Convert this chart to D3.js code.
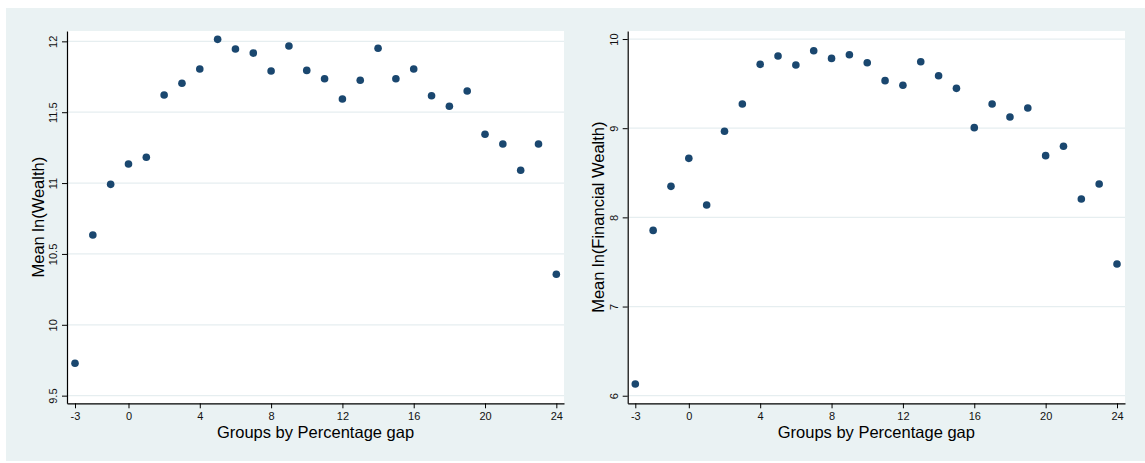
<!DOCTYPE html>
<html>
<head>
<meta charset="utf-8">
<script src="https://cdn.jsdelivr.net/npm/d3@7"></script>
<style>
  html, body { margin: 0; padding: 0; background: #ffffff; }
  svg { display: block; font-family: "Liberation Sans", Arial, sans-serif; }
</style>
</head>
<body>
<svg id="chart" width="1145" height="463"></svg>
<script>
// ---- Data ----
const groups = [-3,-2,-1,0,1,2,3,4,5,6,7,8,9,10,11,12,13,14,15,16,17,18,19,20,21,22,23,24];
const meanLnWealth = [9.729,10.634,10.991,11.135,11.182,11.621,11.704,11.805,12.014,11.946,11.917,11.791,11.967,
  11.795,11.736,11.593,11.725,11.951,11.736,11.805,11.616,11.542,11.650,11.344,11.276,11.090,11.276,10.357];
const meanLnFinWealth = [6.131,7.854,8.348,8.662,8.138,8.965,9.271,9.716,9.809,9.708,9.869,9.783,9.824,
  9.734,9.533,9.481,9.746,9.588,9.447,9.006,9.271,9.125,9.226,8.692,8.797,8.206,8.374,7.477];
const xTicks = [-3,0,4,8,12,16,20,24];
const yTicksWealth = [9.5,10,10.5,11,11.5,12];
const yTicksFin = [6,7,8,9,10];
const xTitle = "Groups by Percentage gap";
const yTitleWealth = "Mean ln(Wealth)";
const yTitleFin = "Mean ln(Financial Wealth)";

// ---- Styles ----
const BG = "#eaf2f3";
const GRID = "#e6eef0";
const MARK = "#1a476f";

const svg = d3.select("#chart");
svg.append("rect").attr("x", 6).attr("y", 8).attr("width", 1139).attr("height", 453).attr("fill", BG);

function panel(cfg) {
  const {left, right, top, bottom, xDom, yDom, yTicks, yFmt, values, yTitle} = cfg;
  const x = d3.scaleLinear().domain(xDom).range([left, right]);
  const y = d3.scaleLinear().domain(yDom).range([bottom, top]);
  const g = svg.append("g");
  g.append("rect").attr("x", left).attr("y", top).attr("width", right - left).attr("height", bottom - top).attr("fill", "#ffffff");
  // gridlines
  g.selectAll("line.grid").data(yTicks).join("line")
    .attr("class", "grid")
    .attr("x1", left).attr("x2", right)
    .attr("y1", d => y(d)).attr("y2", d => y(d))
    .attr("stroke", GRID).attr("stroke-width", 1.3);
  // points
  g.selectAll("circle").data(groups.map((gv, i) => [gv, values[i]])).join("circle")
    .attr("cx", d => x(d[0])).attr("cy", d => y(d[1])).attr("r", 3.8).attr("fill", MARK);
  // x axis
  const xa = g.append("g").attr("transform", `translate(0,${bottom})`)
    .call(d3.axisBottom(x).tickValues(xTicks).tickSize(5).tickSizeOuter(0).tickFormat(d3.format("d")));
  xa.select(".domain").attr("stroke", "#000").attr("stroke-width", 1.2);
  xa.selectAll(".tick line").attr("stroke", "#000").attr("stroke-width", 1);
  xa.selectAll(".tick text").attr("y", 0).attr("dy", null)
    .attr("transform", "translate(0,16.8)")
    .attr("font-size", 11).attr("fill", "#111").attr("font-family", "Liberation Sans, Arial, sans-serif")
    .text(d => d < 0 ? "-" + Math.abs(d) : String(d));
  // y axis
  const ya = g.append("g").attr("transform", `translate(${left},0)`)
    .call(d3.axisLeft(y).tickValues(yTicks).tickSize(5).tickSizeOuter(0).tickFormat(yFmt));
  ya.select(".domain").attr("stroke", "#000").attr("stroke-width", 1.2);
  ya.selectAll(".tick line").attr("stroke", "#000").attr("stroke-width", 1);
  ya.selectAll(".tick text").attr("x", null).attr("dy", null)
    .attr("transform", "translate(-10,0) rotate(-90)")
    .attr("text-anchor", "middle")
    .attr("font-size", 11).attr("fill", "#111").attr("font-family", "Liberation Sans, Arial, sans-serif");
  // titles
  g.append("text").attr("x", (left + right) / 2).attr("y", bottom + 34.3)
    .attr("text-anchor", "middle").attr("font-size", 16.5).attr("fill", "#000").text(xTitle);
  g.append("text").attr("transform", `translate(${left - 23.5},${(top + bottom) / 2}) rotate(-90)`)
    .attr("text-anchor", "middle").attr("font-size", 16.5).attr("fill", "#000").text(yTitle);
}

panel({left: 67, right: 564, top: 31, bottom: 403.3, xDom: [-3.449, 24.43], yDom: [9.446, 12.073],
  yTicks: yTicksWealth, yFmt: d => String(d), values: meanLnWealth, yTitle: yTitleWealth});
panel({left: 627.7, right: 1125, top: 31, bottom: 403.3, xDom: [-3.426, 24.448], yDom: [5.915, 10.09],
  yTicks: yTicksFin, yFmt: d => String(d), values: meanLnFinWealth, yTitle: yTitleFin});
</script>
</body>
</html>
